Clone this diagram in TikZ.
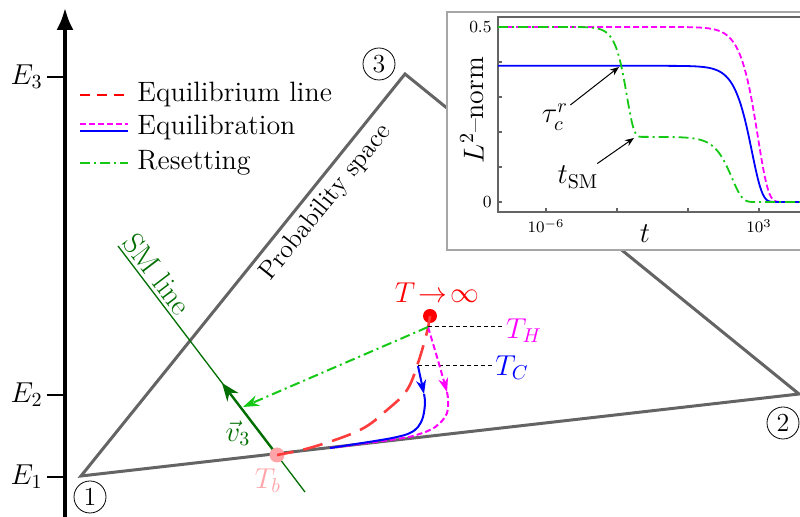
\documentclass[tikz,border=0pt]{standalone}
\usepackage{amsmath}
\usepackage{tikz}
\usetikzlibrary{arrows.meta,positioning,calc}

\definecolor{simplexgray}{RGB}{100,100,100}
\definecolor{smgreen}{RGB}{0,110,0}
\definecolor{resetgreen}{RGB}{20,200,20}
\definecolor{tbpink}{RGB}{255,165,170}
\definecolor{eqred}{RGB}{255,60,60}
\definecolor{hotmag}{RGB}{255,0,255}
\definecolor{coldblue}{RGB}{0,0,255}

% relaxation profile in log-time (pixel units)
\newcommand{\decay}[2]{exp(-pow(10,max(min((\x-#1)/#2,1),-4)))}

\begin{document}
\begin{tikzpicture}[
    x=0.5pt, y=-0.5pt,
    % --- STYLES ---
    lbl/.style={font=\fontsize{14}{16}\selectfont, inner sep=1pt},
    ticklbl/.style={font=\fontsize{8.5}{10}\selectfont, inner sep=1pt},
    vertexnum/.style={circle, draw=black, thin, inner sep=0pt,
        minimum size=16pt, font=\fontsize{13}{15}\selectfont},
    statedot/.style={circle, inner sep=0pt, minimum size=#1},
    simplex/.style={draw=simplexgray, line width=1.5pt},
    axis/.style={line width=1.6pt, -{Latex[length=11pt,width=8.5pt]}},
    tick/.style={line width=1.3pt},
    eqline/.style={draw=eqred, line width=1.3pt, dash pattern=on 10pt off 5pt},
    hotcurve/.style={draw=hotmag, line width=1pt, dash pattern=on 3pt off 1.5pt},
    coldcurve/.style={draw=coldblue, line width=1pt},
    resetcurve/.style={draw=resetgreen, line width=1pt,
        dash pattern=on 5pt off 2pt on 1pt off 2pt},
    guide/.style={draw=black, line width=0.5pt, dash pattern=on 2pt off 1.5pt},
    quenchtip/.style={-{Stealth[length=7pt,width=5pt]}},
    annot/.style={draw=black, line width=0.5pt, -{Stealth[length=4.5pt,width=3.5pt]}},
    plotframe/.style={draw=simplexgray, line width=1pt}
]
\useasboundingbox (0,0) rectangle (800,517);

% ===== 1. ENERGY AXIS =====
\coordinate (axbot) at (65,517);
\coordinate (axtop) at (65,8);
\draw[axis] (axbot) -- (axtop);
\foreach \i/\y in {1/477, 2/395, 3/77} {
    \node[lbl, anchor=east] (E\i) at (45,\y) {$E_\i$};
    \draw[tick] ([xshift=1pt]E\i.east) -- (65,\y);
}

% ===== 2. PROBABILITY SIMPLEX =====
\coordinate (v1) at (81,476);
\coordinate (v2) at (799,394);
\coordinate (v3) at (405,74);
\draw[simplex] (v1) -- node[pos=0.71, sloped, below, inner sep=3pt,
    font=\fontsize{13}{15}\selectfont] {Probability space} (v3) -- (v2) -- cycle;

\node[vertexnum] (n1) at (90,497) {1};
\node[vertexnum] (n2) at (783,423) {2};
\node[vertexnum] (n3) at (379,64) {3};

% ===== 3. LEGEND =====
\node[lbl, anchor=west] (legeq) at (135,95) {Equilibrium line};
\node[lbl, anchor=west] (legrel) at (135,128) {Equilibration};
\node[lbl, anchor=west] (legres) at (135,163) {Resetting};
\draw[draw=red, line width=1pt, dash pattern=on 5pt off 3.5pt]
    ([xshift=-27.5pt]legeq.west) -- ([xshift=-5pt]legeq.west);
\draw[hotcurve] ([xshift=-27.5pt,yshift=2pt]legrel.west) -- ([xshift=-3.5pt,yshift=2pt]legrel.west);
\draw[coldcurve] ([xshift=-27.5pt,yshift=-1.5pt]legrel.west) -- ([xshift=-3.5pt,yshift=-1.5pt]legrel.west);
\draw[resetcurve] ([xshift=-27.5pt]legres.west) -- ([xshift=-3.5pt]legres.west);

% ===== 4. SM LINE =====
\coordinate (smtop) at (118,246);
\coordinate (smbot) at (305,492);
\draw[smgreen, line width=0.65pt] (smtop) -- node[pos=0.15, sloped, above,
    inner sep=1.5pt, font=\fontsize{15}{17}\selectfont] {SM line} (smbot);

\coordinate (v3tip) at (222,383);
\draw[smgreen, line width=1.2pt, -{Stealth[length=9pt,width=7pt]}] (277,455) -- (v3tip);
\node[lbl, text=smgreen] (v3lbl) at (238,433) {$\vec{v}_3$};
\node[statedot=7.5pt, fill=tbpink] (tb) at (277,455) {};
\node[lbl, text=tbpink] (tblbl) at (268,481) {$T_b$};

% ===== 5. EQUILIBRIUM LINE AND QUENCHES =====
\node[statedot=7pt, fill=red] (tinf) at (430,316) {};
\node[lbl, text=red] (tinflbl) at (437,293) {$T\!\to\!\infty$};

\coordinate (th) at (428,327);
\coordinate (tc) at (418,366);
\coordinate (smhit) at (243,407);
\coordinate (harr) at (447,392);
\coordinate (carr) at (424,394);

\draw[eqline] plot[smooth, tension=0.6] coordinates {(tinf.center) (427,332)
    (418,363) (407,390) (387,410) (360,430) (313,447) (tb.center)};

\node[lbl, text=hotmag] (thlbl) at (524,331) {$T_H$};
\node[lbl, text=coldblue] (tclbl) at (512,368) {$T_C$};
\draw[guide] (th) -- (th -| thlbl.west);
\draw[guide] (tc) -- (tc -| tclbl.west);

% hot quench
\draw[hotcurve, quenchtip] plot[smooth] coordinates {(th) (437,357) (harr)};
\draw[hotcurve] plot[smooth, tension=0.6] coordinates {(harr) (448,400)
    (447,413) (440,423) (430,430) (413,436) (397,439) (375,442) (330,448)};
% cold quench
\draw[coldcurve, quenchtip] (tc) -- (carr);
\draw[coldcurve] plot[smooth, tension=0.6] coordinates {(carr) (425,403)
    (423,417) (418,427) (410,433) (397,437) (375,441) (330,448)};
% resetting
\draw[resetcurve, -{Stealth[length=8pt,width=5.5pt]}] (th) -- (smhit);

% ===== 6. INSET =====
\filldraw[draw=gray!70, fill=white, line width=0.6pt] (447,12) rectangle (815,250);
\draw[plotframe] (815,17) -- (498,17) -- (498,212) -- (815,212);
\foreach \k in {0,...,5}
    \draw[simplexgray, line width=0.6pt] (498,{202-35*\k}) -- ++(4,0);
\foreach \u in {-6,-3,0,3}
    \draw[simplexgray, line width=0.6pt] ({546+(\u+6)*23.67},212) -- ++(0,-4);

\node[ticklbl, anchor=east] (y05) at (494,27) {0.5};
\node[ticklbl, anchor=east] (y0) at (494,202) {0};
\node[ticklbl] (xm6) at (546,226) {$10^{-6}$};
\node[ticklbl] (xp3) at (759,226) {$10^{3}$};
\node[lbl, rotate=90] (ylbl) at (472,110) {$L^2$--norm};
\node[lbl] (xlbl) at (645,234) {$t$};

\begin{scope}
\clip (498,17) rectangle (815,212);
\draw[hotcurve, line width=0.9pt] plot[domain=498:800, samples=180]
    (\x, {202-350*0.5*\decay{758}{23.67}});
\draw[coldcurve, line width=0.9pt] plot[domain=498:800, samples=180]
    (\x, {202-350*0.389*\decay{752}{23.67}});
\draw[resetcurve, line width=0.9pt] plot[domain=498:800, samples=220]
    (\x, {202-350*(0.186*\decay{732}{23.67} + 0.314*\decay{627}{16})});
\end{scope}

\node[lbl] (taulbl) at (555,117) {$\tau_c^r$};
\node[lbl] (tsmlbl) at (578,177) {$t_{\mathrm{SM}}$};
\coordinate (cross) at (619,67);
\coordinate (corner) at (634,138);
\draw[annot] (taulbl) -- (cross);
\draw[annot] (tsmlbl) -- (corner);

\end{tikzpicture}
\end{document}
